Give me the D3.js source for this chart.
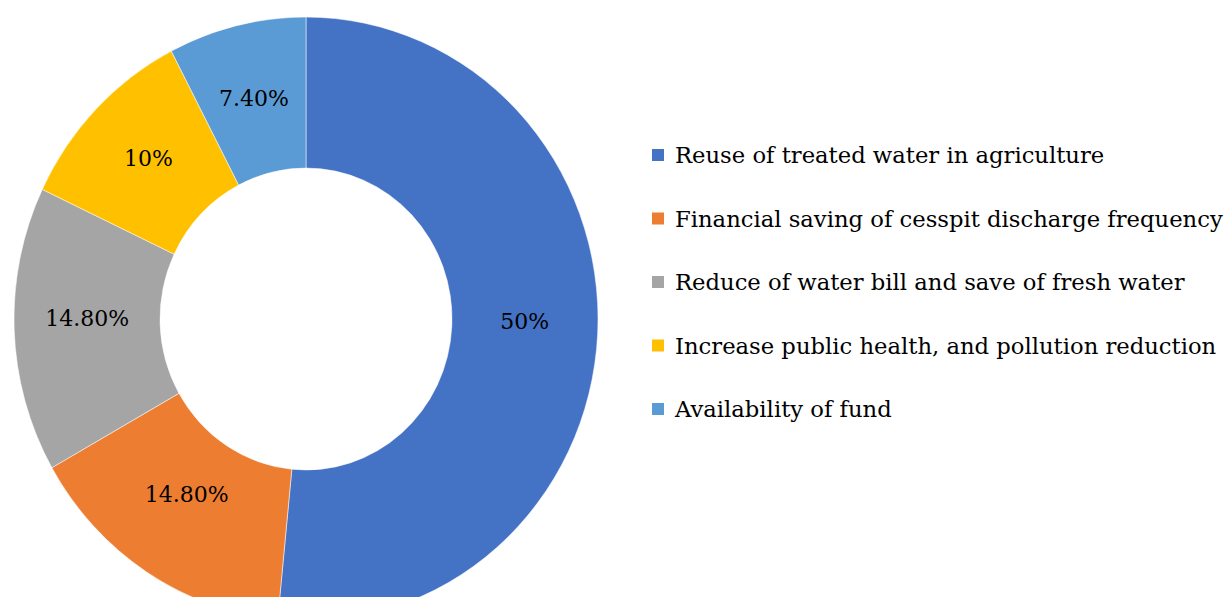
<!DOCTYPE html>
<html><head><meta charset="utf-8">
<script src="https://cdn.jsdelivr.net/npm/d3@7"></script>
<style>html,body{margin:0;padding:0;background:#fff;overflow:hidden}</style>
</head><body>
<svg id="chart" width="1231" height="597"></svg>
<script>
const categories = [
  "Reuse of treated water in agriculture",
  "Financial saving of cesspit discharge frequency",
  "Reduce of water bill and save of fresh water",
  "Increase public health, and pollution reduction",
  "Availability of fund"
];
const values = [50, 14.8, 14.8, 10, 7.4];
const valueLabels = ["50%", "14.80%", "14.80%", "10%", "7.40%"];
const colors = ["#4472C4", "#ED7D31", "#A5A5A5", "#FFC000", "#5B9BD5"];

const svg = d3.select("#chart");
const cx = 306, cy = 319, rOuter = 292, rInner = 146, sy = 1.034, labelCy = 311;
const fontFam = "'DejaVu Serif', serif";

const pie = d3.pie().sort(null).value(d => d)(values);
const arc = d3.arc().innerRadius(rInner).outerRadius(rOuter);

const g = svg.append("g").attr("transform", `translate(${cx},${cy}) scale(1,${sy})`);
g.selectAll("path").data(pie).join("path")
  .attr("d", arc)
  .attr("fill", (d, i) => colors[i])
  .attr("stroke", "#fff").attr("stroke-width", 0.5);

const lg = svg.append("g").attr("transform", `translate(${cx},${labelCy})`);
lg.selectAll("text").data(pie).join("text")
  .attr("x", d => arc.centroid(d)[0])
  .attr("y", d => arc.centroid(d)[1])
  .attr("text-anchor", "middle").attr("dominant-baseline", "central")
  .attr("font-family", fontFam).attr("font-size", 22).attr("fill", "#000")
  .text((d, i) => valueLabels[i]);

const legendY = d3.scalePoint().domain(categories).range([155, 409]);
const leg = svg.append("g");
const items = leg.selectAll("g").data(categories).join("g")
  .attr("transform", d => `translate(652,${legendY(d)})`);
items.append("rect").attr("x", 0).attr("y", -6).attr("width", 12).attr("height", 12)
  .attr("fill", (d, i) => colors[i]);
items.append("text").attr("x", 23).attr("y", 0).attr("dominant-baseline", "central")
  .attr("font-family", fontFam).attr("font-size", 22.7).attr("fill", "#000")
  .text(d => d);
</script>
</body></html>
